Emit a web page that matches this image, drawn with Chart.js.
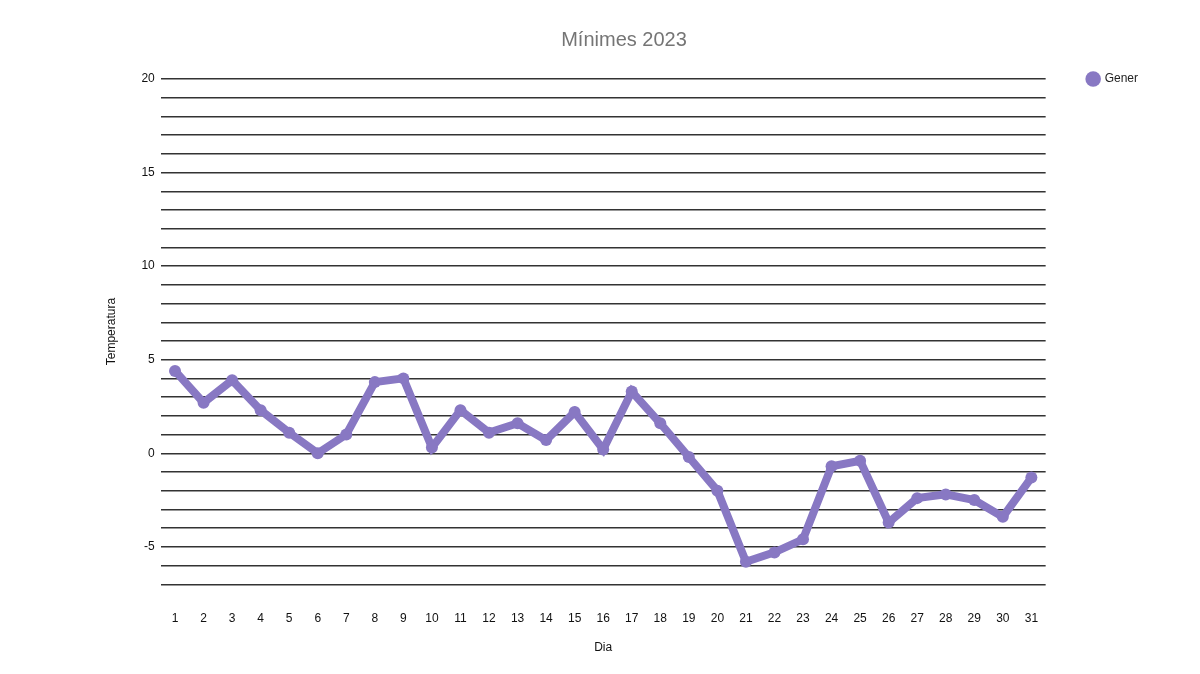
<!DOCTYPE html>
<html>
<head>
<meta charset="utf-8">
<script src="https://cdn.jsdelivr.net/npm/chart.js@4.4.0/dist/chart.umd.min.js"></script>
<style>
  html, body { margin: 0; padding: 0; background: #fff; }
  #wrap { width: 1200px; height: 674px; }
</style>
</head>
<body>
<div id="wrap"><canvas id="chart"></canvas></div>
<script>
// Mínimes de gener 2023
const dies = Array.from({length: 31}, (_, i) => String(i + 1));
const gener = [4.4, 2.7, 3.9, 2.3, 1.1, 0.0, 1.0, 3.8, 4.0, 0.3,
               2.3, 1.1, 1.6, 0.7, 2.2, 0.2, 3.3, 1.6, -0.2, -2.0,
               -5.8, -5.3, -4.6, -0.7, -0.4, -3.7, -2.4, -2.2, -2.5, -3.4, -1.3];
const yMin = -7;
const yMax = 20;

const lila = "#8878c3";
const font = "'Liberation Sans', Arial, sans-serif";

// lift the legend so its item lines up with the top gridline
const legendUp = {
  id: "legendUp",
  afterLayout(chart) {
    if (chart.legend) {
      chart.legend.top -= 16;
      chart.legend.bottom -= 16;
    }
  }
};

new Chart(document.getElementById("chart").getContext("2d"), {
  type: "line",
  data: {
    labels: dies,
    datasets: [{
      label: "Gener",
      data: gener,
      borderColor: lila,
      backgroundColor: lila,
      borderWidth: 8,
      pointRadius: 6,
      pointBackgroundColor: lila,
      pointBorderWidth: 0,
      tension: 0
    }]
  },
  plugins: [legendUp],
  options: {
    responsive: true,
    maintainAspectRatio: false,
    animation: false,
    layout: { padding: { left: 100, right: 52, top: 10, bottom: 15 } },
    plugins: {
      title: {
        display: true,
        text: "Mínimes 2023",
        color: "#757575",
        font: { family: font, size: 20, weight: "normal" },
        padding: { top: 18, bottom: 27 }
      },
      legend: {
        position: "right",
        align: "start",
        fullSize: false,
        labels: {
          usePointStyle: true,
          pointStyle: "circle",
          boxWidth: 11,
          boxHeight: 11,
          color: "#222",
          font: { family: font, size: 12 },
          padding: 10
        }
      },
      tooltip: { enabled: false }
    },
    scales: {
      x: {
        offset: true,
        grid: { display: false },
        border: { display: false },
        ticks: { color: "#111", font: { family: font, size: 12 }, padding: 19, maxRotation: 0, autoSkip: false },
        title: { display: true, text: "Dia", color: "#111", font: { family: font, size: 12 }, padding: { top: -4, bottom: 4 } }
      },
      y: {
        min: yMin,
        max: yMax,
        grid: { color: "#333", lineWidth: 1.4, drawTicks: false },
        border: { display: false },
        ticks: {
          stepSize: 1,
          color: "#111",
          font: { family: font, size: 12 },
          padding: 6,
          callback: v => (v % 5 === 0 ? v : "")
        },
        title: { display: true, text: "Temperatura", color: "#111", font: { family: font, size: 12 }, padding: { bottom: 17 } }
      },
      // empty right axis: keeps a gap between plot and legend
      gap: {
        position: "right",
        display: true,
        grid: { display: false },
        border: { display: false },
        ticks: { display: false },
        afterFit: s => { s.width = 32; }
      }
    }
  }
});
</script>
</body>
</html>
